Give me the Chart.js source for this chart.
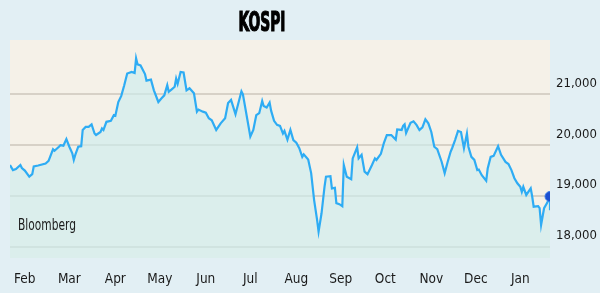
<!DOCTYPE html>
<html>
<head>
<meta charset="utf-8">
<title>KOSPI</title>
<script src="https://cdn.jsdelivr.net/npm/chart.js@4/dist/chart.umd.min.js"></script>
<style>
    html, body { margin: 0; padding: 0; background: #e2eff4; }
    #kospiChart { display: block; }
</style>
</head>
<body>
<canvas id="kospiChart" width="600" height="293"></canvas>
<script>
// month labels and where they sit (days from start of series)
var months = ['Feb', 'Mar', 'Apr', 'May', 'Jun', 'Jul', 'Aug', 'Sep', 'Oct', 'Nov', 'Dec', 'Jan'];
var monthPos = [10, 40, 71, 101, 132, 162, 193, 223, 253, 284, 314, 344];

// y axis ticks
var yTicks = [18000, 19000, 20000, 21000];

// index level
var days = [0, 2, 4, 7, 8, 10, 13, 15, 16, 19, 24, 26, 29, 30, 33, 34, 36, 38, 40, 42,
    43, 44, 46, 48, 49, 51, 53, 55, 57, 58, 61, 62, 63, 65, 68, 70, 71, 73, 75, 77,
    79, 82, 84, 85, 86, 88, 91, 92, 95, 97, 100, 102, 104, 106, 107, 109, 111, 112, 113, 115,
    117, 119, 121, 124, 126, 127, 130, 132, 134, 136, 139, 142, 145, 147, 149, 152, 156, 157, 162, 164,
    166, 168, 170, 171, 173, 175, 176, 178, 180, 182, 184, 185, 187, 189, 191, 193, 195, 197, 198, 201,
    203, 205, 207, 208, 210, 212, 213, 216, 217, 219, 220, 222, 224, 225, 227, 230, 231, 234, 235, 237,
    239, 241, 244, 246, 247, 250, 252, 254, 257, 260, 261, 264, 265, 266, 267, 270, 272, 274, 276, 278,
    280, 282, 284, 286, 288, 291, 293, 295, 297, 298, 300, 302, 304, 306, 308, 309, 311, 313, 315, 316,
    318, 321, 322, 324, 326, 329, 331, 334, 336, 338, 340, 342, 344, 345, 346, 348, 351, 352, 353, 356,
    357, 358, 360, 362, 364, 364];
var kospi = [19610, 19510, 19530, 19610, 19550, 19500, 19380, 19430, 19580, 19600, 19640, 19690, 19920, 19890, 19970, 20000, 19990, 20120, 19970, 19840,
    19710, 19810, 19970, 19980, 20300, 20360, 20360, 20410, 20230, 20200, 20260, 20330, 20300, 20460, 20480, 20590, 20580, 20850, 20970, 21180,
    21410, 21440, 21420, 21710, 21590, 21570, 21400, 21270, 21290, 21080, 20850, 20920, 20980, 21180, 21050, 21100, 21150, 21310, 21210, 21440,
    21430, 21080, 21120, 21020, 20660, 20700, 20660, 20640, 20530, 20490, 20300, 20430, 20530, 20830, 20890, 20610, 21060, 21000, 20170, 20300,
    20590, 20630, 20870, 20770, 20740, 20840, 20680, 20480, 20400, 20380, 20230, 20280, 20110, 20300, 20100, 20050, 19940, 19770, 19820, 19720,
    19450, 18920, 18530, 18300, 18660, 19180, 19380, 19390, 19150, 19160, 18860, 18840, 18800, 19610, 19380, 19330, 19740, 19960, 19740, 19810,
    19480, 19430, 19610, 19740, 19710, 19830, 20040, 20200, 20200, 20110, 20310, 20300, 20380, 20410, 20240, 20440, 20470, 20400, 20300, 20350,
    20510, 20430, 20260, 19970, 19920, 19670, 19450, 19670, 19870, 19940, 20100, 20280, 20260, 19940, 20230, 19970, 19770, 19710, 19510, 19520,
    19410, 19300, 19540, 19770, 19790, 19980, 19810, 19670, 19630, 19510, 19350, 19250, 19180, 19080, 19180, 19020, 19150, 18990, 18790, 18800,
    18760, 18430, 18760, 18860, 18990, 18720];

var lastMark = kospi.length - 2;
var FONT = "'Liberation Sans Narrow', 'DejaVu Sans Condensed', 'Roboto', sans-serif";

var points = days.map(function (d, i) { return { x: d, y: kospi[i] }; });

// draw text squeezed to a given width
function squeezeText(ctx, text, x, y, width, align) {
    var w = ctx.measureText(text).width;
    ctx.save();
    ctx.translate(x, y);
    ctx.scale(Math.min(1, width / w), 1);
    ctx.textAlign = align;
    ctx.fillText(text, 0, 0);
    ctx.restore();
    return w;
}

var panelPlugin = {
    id: 'panel',
    beforeDraw: function (chart) {
        var ctx = chart.ctx, a = chart.chartArea;
        ctx.save();
        ctx.fillStyle = '#e2eff4';
        ctx.fillRect(0, 0, chart.width, chart.height);
        ctx.fillStyle = '#f5f1e8';
        ctx.fillRect(a.left, a.top, a.right - a.left, a.bottom - a.top);
        ctx.restore();
    },
    afterDraw: function (chart) {
        var ctx = chart.ctx;
        ctx.save();
        ctx.font = "bold 26px " + FONT;
        ctx.fillStyle = '#000';
        ctx.strokeStyle = '#000';
        ctx.lineWidth = 1.2;
        ctx.textBaseline = 'alphabetic';
        var w = ctx.measureText('KOSPI').width;
        ctx.translate(262, 31);
        ctx.scale(47 / w, 1);
        ctx.textAlign = 'center';
        ctx.fillText('KOSPI', 0, 0);
        ctx.strokeText('KOSPI', 0, 0);
        ctx.restore();

        ctx.save();
        ctx.font = "15px " + FONT;
        ctx.fillStyle = '#1a1a1a';
        ctx.textBaseline = 'alphabetic';
        squeezeText(ctx, 'Bloomberg', 18, 230, 58, 'left');
        ctx.restore();
    }
};

var chart = new Chart(document.getElementById('kospiChart'), {
    type: 'line',
    data: {
        datasets: [{
            label: 'KOSPI',
            data: points,
            borderColor: '#2eacf4',
            borderWidth: 2.2,
            tension: 0,
            fill: 'start',
            backgroundColor: 'rgba(205, 236, 238, 0.65)',
            pointRadius: kospi.map(function (v, i) { return i === lastMark ? 5 : 0; }),
            pointBackgroundColor: '#1d4fd1',
            pointBorderColor: '#3a7ee8',
            pointBorderWidth: 1
        }]
    },
    options: {
        responsive: false,
        animation: false,
        layout: { padding: { top: 40, left: 10, right: 0, bottom: 0 } },
        plugins: {
            legend: { display: false },
            title: { display: false },
            tooltip: { enabled: false }
        },
        scales: {
            x: {
                type: 'linear',
                min: 0,
                max: 364,
                grid: { display: false },
                border: { display: false },
                afterBuildTicks: function (scale) {
                    scale.ticks = monthPos.map(function (v) { return { value: v }; });
                },
                afterFit: function (scale) { scale.height = 35; },
                ticks: {
                    autoSkip: false,
                    maxRotation: 0,
                    padding: 5,
                    color: '#1a1a1a',
                    font: { family: FONT, size: 13.5 },
                    callback: function (value, index) { return months[index]; }
                }
            },
            y: {
                position: 'right',
                min: 17780,
                max: 22070,
                border: { display: false },
                grid: {
                    color: 'rgba(185, 178, 165, 0.5)',
                    lineWidth: 2,
                    drawTicks: false
                },
                afterBuildTicks: function (scale) {
                    scale.ticks = yTicks.map(function (v) { return { value: v }; });
                },
                afterFit: function (scale) { scale.width = 50; },
                ticks: {
                    padding: 6,
                    labelOffset: -11,
                    color: '#1a1a1a',
                    font: { family: FONT, size: 13 },
                    callback: function (value) { return value.toLocaleString('en-US'); }
                }
            }
        }
    },
    plugins: [panelPlugin]
});
</script>
</body>
</html>
